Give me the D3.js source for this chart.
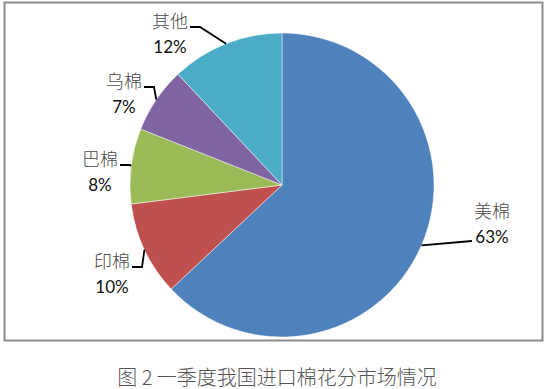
<!DOCTYPE html>
<html>
<head>
<meta charset="utf-8">
<script src="https://cdn.jsdelivr.net/npm/d3@7/dist/d3.min.js"></script>
<style>
  html, body { margin: 0; padding: 0; background: #fff; }
  svg { display: block; }
</style>
</head>
<body>
<svg id="chart" width="550" height="389"></svg>
<script>
// ---- data ----
const categories = ["美棉", "印棉", "巴棉", "乌棉", "其他"];
const shares = [63, 10, 8, 7, 12];
const shareLabels = ["63%", "10%", "8%", "7%", "12%"];
const colors = ["#4F81BD", "#C0504D", "#9BBB59", "#8064A2", "#4BACC6"];
const caption = "图 2 一季度我国进口棉花分市场情况";

// ---- layout (label block centres relative to pie centre) ----
const labelLayout = [
  { dx: 210, dy: 25, side: "right" },
  { dx: -170, dy: 75, side: "left" },
  { dx: -182, dy: -27, side: "left" },
  { dx: -158, dy: -105, side: "left" },
  { dx: -112, dy: -165, side: "left" }
];

const svg = d3.select("#chart");
const cx = 282, cy = 185, R = 152;

// frame
svg.append("rect")
  .attr("x", 4.5).attr("y", 2.5)
  .attr("width", 538).attr("height", 338)
  .attr("fill", "#fff")
  .attr("stroke", "#8c8c8c")
  .attr("stroke-width", 2);

const pie = d3.pie().sort(null).value(d => d);
const arcs = pie(shares);
const arc = d3.arc().innerRadius(0).outerRadius(R);

const g = svg.append("g").attr("transform", `translate(${cx},${cy})`);

g.selectAll("path.slice")
  .data(arcs)
  .join("path")
  .attr("class", "slice")
  .attr("d", arc)
  .attr("fill", (d, i) => colors[i])
  .attr("stroke", "rgba(255,255,255,0.6)")
  .attr("stroke-width", 0.8);

// labels & leader lines
arcs.forEach((a, i) => {
  const mid = (a.startAngle + a.endAngle) / 2;
  const px = R * Math.sin(mid), py = -R * Math.cos(mid);
  const L = labelLayout[i];
  const lineGap = 26;
  let end, elbow;
  if (L.side === "left") {
    end = [L.dx + 20, L.dy + 7];
    elbow = [end[0] + 10, end[1]];
  } else {
    end = [L.dx - 20, L.dy + lineGap + 5];
    elbow = end;
  }
  g.append("path")
    .attr("d", d3.line()([[px, py], elbow, end]))
    .attr("fill", "none")
    .attr("stroke", "#000")
    .attr("stroke-width", 1.8);

  g.append("text")
    .attr("x", L.dx).attr("y", L.dy)
    .attr("text-anchor", "middle")
    .attr("dominant-baseline", "central")
    .attr("font-family", "'Noto Sans CJK SC', sans-serif")
    .attr("font-weight", 300)
    .attr("font-size", 18)
    .attr("fill", "#4a4a4a")
    .text(categories[i]);

  g.append("text")
    .attr("x", L.dx).attr("y", L.dy + lineGap)
    .attr("text-anchor", "middle")
    .attr("dominant-baseline", "central")
    .attr("font-family", "Lato, 'Open Sans', sans-serif")
    .attr("font-size", 17)
    .attr("fill", "#111")
    .text(shareLabels[i]);
});

// caption
svg.append("text")
  .attr("x", 277).attr("y", 376)
  .attr("text-anchor", "middle")
  .attr("dominant-baseline", "central")
  .attr("font-family", "'Noto Sans CJK SC', sans-serif")
  .attr("font-weight", 300)
  .attr("font-size", 20)
  .attr("fill", "#555")
  .text(caption);
</script>
</body>
</html>
